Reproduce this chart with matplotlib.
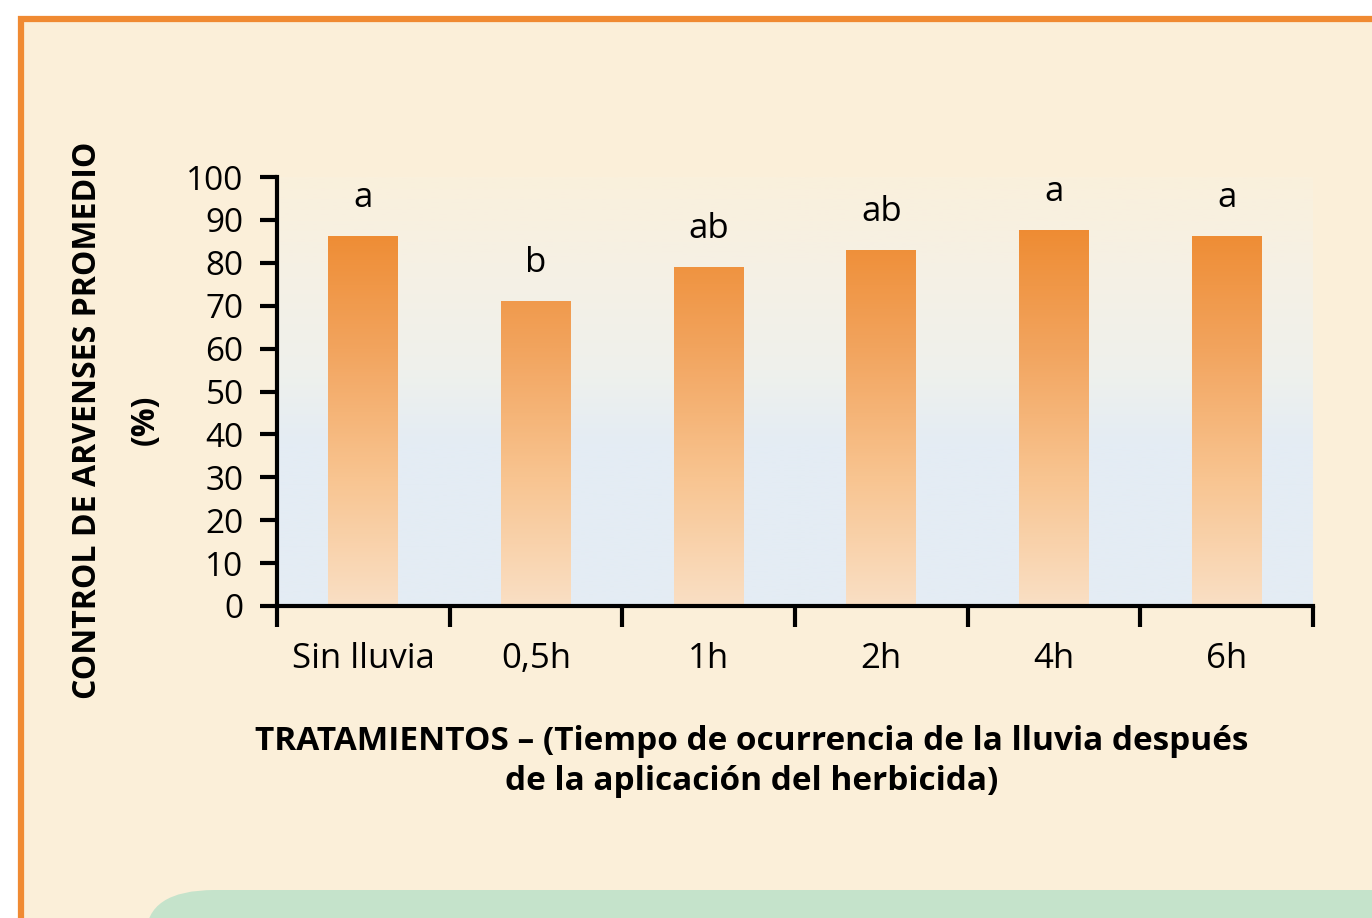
import numpy as np
import matplotlib.pyplot as plt
from matplotlib.colors import LinearSegmentedColormap
from matplotlib.patches import FancyBboxPatch

# datos
tratamientos = ["Sin lluvia", "0,5h", "1h", "2h", "4h", "6h"]
control = [86.2, 70.9, 78.8, 82.8, 87.6, 86.2]
letras = ["a", "b", "ab", "ab", "a", "a"]

plt.rcParams["font.family"] = ["Open Sans", "DejaVu Sans"]

W, H = 1372, 918
fig = plt.figure(figsize=(W / 100, H / 100), dpi=100)
fig.patch.set_facecolor("white")

# fondo crema con borde naranja
fondo = plt.Rectangle((21 / W, -0.1), 1.2, (H - 19) / H + 0.1, transform=fig.transFigure,
                      facecolor="#FBEFD9", edgecolor="#F08A32", linewidth=4.5, zorder=-2)
fig.patches.append(fondo)

# recuadro verde inferior
verde = FancyBboxPatch((146 / W, -0.1), 1.3, (28 + 0.1 * H) / H, transform=fig.transFigure,
                       boxstyle="round,pad=0,rounding_size=0.05", facecolor="#C5E3CB",
                       edgecolor="none", zorder=-1)
fig.patches.append(verde)

ax = fig.add_axes([277 / W, (H - 606) / H, (1313 - 277) / W, (606 - 177) / H])
ax.set_zorder(3)
ax.set_facecolor("none")

# degradado del fondo del gráfico
bg = LinearSegmentedColormap.from_list("bg", [(0, "#E4ECF4"), (0.38, "#E4ECF4"),
                                              (0.55, "#EFF1EC"), (0.8, "#F6F0E4"),
                                              (1, "#FAF0DC")])
grad = np.linspace(0, 1, 256).reshape(-1, 1)
ax.imshow(grad, cmap=bg, origin="lower", aspect="auto", extent=(0, 6.02, 0, 100), zorder=0)

# barras con degradado
barra = LinearSegmentedColormap.from_list("barra", ["#FADFC4", "#F8C490", "#F2A45E", "#EE8A30"])
x = np.arange(len(tratamientos)) + 0.5
ancho = 0.405
for xi, v, l in zip(x, control, letras):
    g = np.linspace(0, 1, 256).reshape(-1, 1) * v / 90
    ax.imshow(np.clip(g, 0, 1), cmap=barra, vmin=0, vmax=1, origin="lower", aspect="auto",
              extent=(xi - ancho / 2, xi + ancho / 2, 0, v), zorder=2)
    ax.text(xi, v + 9, l, ha="center", va="center", fontsize=25, zorder=3)

ax.set_xlim(0, 6)
ax.set_ylim(0, 100)

for s in ["top", "right"]:
    ax.spines[s].set_visible(False)
for s in ["left", "bottom"]:
    ax.spines[s].set_linewidth(3)
    ax.spines[s].set_zorder(4)

ax.set_yticks(np.arange(0, 101, 10))
ax.tick_params(axis="y", length=12, width=3, labelsize=24, pad=12)
ax.set_xticks(np.arange(0, 7))
ax.set_xticklabels([])
ax.set_xticks(x, minor=True)
ax.set_xticklabels(tratamientos, minor=True)
ax.tick_params(axis="x", which="major", length=15, width=3)
ax.tick_params(axis="x", which="minor", length=0, labelsize=25, pad=26)

fig.text(88 / W, (H - 420) / H, "CONTROL DE ARVENSES PROMEDIO", rotation=90,
         ha="center", va="center", fontsize=23, fontweight="bold")
fig.text(145 / W, (H - 420) / H, "(%)", rotation=90,
         ha="center", va="center", fontsize=23, fontweight="bold")

fig.text(752 / W, (H - 741) / H, "TRATAMIENTOS – (Tiempo de ocurrencia de la lluvia después",
         ha="center", va="center", fontsize=24, fontweight="bold")
fig.text(752 / W, (H - 781) / H, "de la aplicación del herbicida)",
         ha="center", va="center", fontsize=24, fontweight="bold")

fig.savefig("out.png", dpi=100, facecolor=fig.get_facecolor())
